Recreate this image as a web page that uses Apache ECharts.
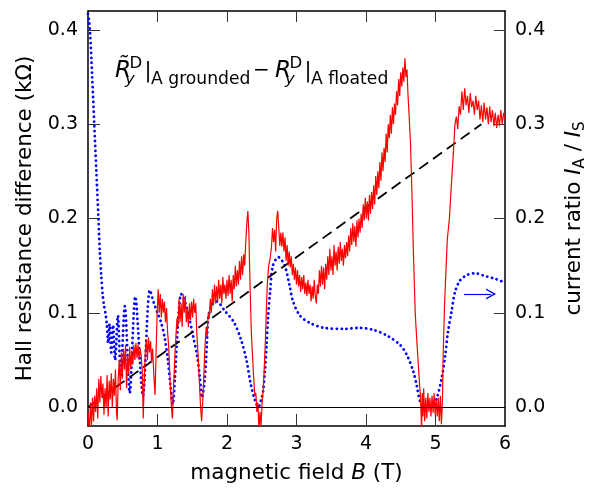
<!DOCTYPE html>
<html>
<head>
<meta charset="utf-8">
<script src="https://cdn.jsdelivr.net/npm/echarts@6/dist/echarts.min.js"></script>
<style>
  html, body { margin: 0; padding: 0; background: #fff; }
  #chart { width: 596px; height: 489px; }
</style>
</head>
<body>
<div id="chart"></div>
<script>
const FONT = 'DejaVu Sans';

// Tick positions
const xTicks = [0, 1, 2, 3, 4, 5, 6];
const yTicks = [0, 0.1, 0.2, 0.3, 0.4];

// Hall resistance difference (kOhm) vs magnetic field B (T)
const hallDiff = [
  [0.00, -0.005], [0.02, -0.025], [0.035, 0.005], [0.05, -0.02], [0.065, 0.01], [0.08, -0.015],
  [0.095, 0.012], [0.11, -0.005], [0.125, 0.02], [0.14, -0.012], [0.155, 0.03], [0.17, 0.005],
  [0.185, 0.033], [0.20, 0.01], [0.215, 0.025], [0.23, -0.008], [0.245, 0.02], [0.26, 0.0],
  [0.275, 0.034], [0.29, -0.01], [0.305, 0.028], [0.32, 0.008], [0.335, 0.036], [0.35, 0.0],
  [0.365, 0.03], [0.38, 0.012], [0.395, 0.04], [0.41, -0.005], [0.42, -0.014], [0.435, 0.03],
  [0.45, 0.05], [0.465, 0.018], [0.48, 0.058], [0.495, 0.03], [0.51, 0.062], [0.525, 0.04],
  [0.54, 0.066], [0.555, 0.02], [0.57, 0.055], [0.585, 0.035], [0.60, 0.064], [0.615, 0.04],
  [0.63, 0.06], [0.645, 0.045], [0.66, 0.066], [0.675, 0.05], [0.69, 0.068], [0.705, 0.052],
  [0.72, 0.066], [0.735, 0.05], [0.75, 0.062], [0.765, 0.055], [0.78, 0.04], [0.795, -0.012],
  [0.81, 0.03], [0.825, 0.06], [0.84, 0.072], [0.855, 0.05], [0.87, 0.074], [0.885, 0.058],
  [0.90, 0.07], [0.915, 0.048], [0.93, 0.062], [0.95, 0.03], [0.965, 0.013], [0.98, 0.06],
  [0.995, 0.1], [1.01, 0.125], [1.025, 0.1], [1.04, 0.12], [1.055, 0.095], [1.07, 0.115],
  [1.085, 0.1], [1.10, 0.112], [1.115, 0.09], [1.13, 0.105], [1.145, 0.08], [1.16, 0.065],
  [1.18, 0.03], [1.20, 0.0], [1.215, -0.012], [1.23, 0.02], [1.25, 0.055], [1.265, 0.075],
  [1.28, 0.094], [1.295, 0.085], [1.31, 0.115], [1.325, 0.09], [1.34, 0.11], [1.355, 0.085],
  [1.37, 0.12], [1.385, 0.1], [1.40, 0.118], [1.415, 0.09], [1.43, 0.105], [1.445, 0.085],
  [1.46, 0.11], [1.475, 0.092], [1.49, 0.112], [1.505, 0.095], [1.52, 0.115], [1.535, 0.1],
  [1.55, 0.11], [1.565, 0.08], [1.58, 0.06], [1.60, 0.03], [1.62, 0.0], [1.635, -0.015],
  [1.65, 0.005], [1.665, 0.03], [1.68, 0.06], [1.70, 0.085], [1.715, 0.075], [1.73, 0.1],
  [1.745, 0.094], [1.76, 0.115], [1.775, 0.1], [1.79, 0.125], [1.805, 0.108], [1.82, 0.13],
  [1.835, 0.11], [1.85, 0.128], [1.865, 0.112], [1.88, 0.135], [1.895, 0.115], [1.91, 0.13],
  [1.925, 0.11], [1.94, 0.138], [1.955, 0.12], [1.97, 0.13], [1.985, 0.115], [2.00, 0.135],
  [2.015, 0.118], [2.03, 0.14], [2.045, 0.12], [2.06, 0.135], [2.075, 0.112], [2.09, 0.14],
  [2.105, 0.125], [2.12, 0.15], [2.135, 0.128], [2.15, 0.145], [2.165, 0.13], [2.18, 0.155],
  [2.195, 0.135], [2.21, 0.16], [2.225, 0.14], [2.24, 0.162], [2.255, 0.15], [2.27, 0.175],
  [2.285, 0.195], [2.30, 0.208], [2.315, 0.185], [2.325, 0.15], [2.335, 0.12], [2.35, 0.08],
  [2.37, 0.05], [2.385, 0.03], [2.40, 0.012], [2.415, 0.015], [2.43, -0.005], [2.445, 0.005],
  [2.46, -0.025], [2.475, -0.005], [2.49, -0.02], [2.505, 0.005], [2.52, 0.017], [2.535, 0.04],
  [2.55, 0.066], [2.565, 0.1], [2.58, 0.13], [2.60, 0.15], [2.62, 0.157], [2.64, 0.17],
  [2.655, 0.19], [2.67, 0.175], [2.685, 0.188], [2.70, 0.165], [2.715, 0.2], [2.73, 0.208],
  [2.745, 0.19], [2.76, 0.171], [2.775, 0.185], [2.79, 0.17], [2.805, 0.185], [2.82, 0.165],
  [2.835, 0.18], [2.85, 0.155], [2.865, 0.172], [2.88, 0.15], [2.895, 0.165], [2.91, 0.148],
  [2.925, 0.16], [2.94, 0.14], [2.955, 0.152], [2.97, 0.135], [2.985, 0.148], [3.00, 0.13],
  [3.015, 0.145], [3.03, 0.128], [3.045, 0.14], [3.06, 0.122], [3.075, 0.138], [3.09, 0.125],
  [3.105, 0.14], [3.12, 0.12], [3.135, 0.132], [3.15, 0.118], [3.165, 0.135], [3.18, 0.12],
  [3.195, 0.13], [3.21, 0.112], [3.225, 0.128], [3.24, 0.115], [3.255, 0.135], [3.27, 0.118],
  [3.285, 0.11], [3.30, 0.13], [3.315, 0.12], [3.33, 0.145], [3.345, 0.128], [3.36, 0.15],
  [3.375, 0.13], [3.39, 0.148], [3.405, 0.125], [3.42, 0.152], [3.435, 0.135], [3.45, 0.16],
  [3.465, 0.14], [3.48, 0.168], [3.495, 0.145], [3.51, 0.16], [3.525, 0.14], [3.54, 0.172],
  [3.555, 0.15], [3.57, 0.165], [3.585, 0.145], [3.60, 0.17], [3.615, 0.152], [3.63, 0.175],
  [3.645, 0.155], [3.66, 0.168], [3.675, 0.15], [3.69, 0.172], [3.705, 0.158], [3.72, 0.175],
  [3.735, 0.16], [3.75, 0.182], [3.765, 0.165], [3.78, 0.19], [3.795, 0.172], [3.81, 0.195],
  [3.825, 0.175], [3.84, 0.192], [3.855, 0.17], [3.87, 0.198], [3.885, 0.18], [3.90, 0.2],
  [3.915, 0.185], [3.93, 0.205], [3.945, 0.19], [3.96, 0.215], [3.975, 0.198], [3.99, 0.222],
  [4.005, 0.2], [4.02, 0.218], [4.035, 0.198], [4.05, 0.225], [4.065, 0.205], [4.08, 0.228],
  [4.095, 0.21], [4.11, 0.235], [4.125, 0.215], [4.14, 0.245], [4.155, 0.225], [4.17, 0.25],
  [4.185, 0.232], [4.20, 0.26], [4.215, 0.24], [4.23, 0.27], [4.245, 0.25], [4.26, 0.275],
  [4.275, 0.26], [4.29, 0.29], [4.305, 0.27], [4.32, 0.3], [4.335, 0.285], [4.35, 0.31],
  [4.365, 0.29], [4.38, 0.318], [4.395, 0.3], [4.41, 0.322], [4.425, 0.31], [4.44, 0.335],
  [4.455, 0.32], [4.47, 0.348], [4.485, 0.33], [4.50, 0.355], [4.515, 0.34], [4.53, 0.36],
  [4.545, 0.345], [4.56, 0.37], [4.575, 0.35], [4.59, 0.358], [4.605, 0.33], [4.62, 0.31],
  [4.64, 0.28], [4.66, 0.23], [4.68, 0.17], [4.70, 0.12], [4.71, 0.097], [4.74, 0.06],
  [4.77, 0.025], [4.785, 0.01], [4.80, -0.025], [4.81, 0.015], [4.82, -0.01], [4.83, 0.02],
  [4.845, -0.015], [4.86, 0.01], [4.875, -0.012], [4.89, 0.015], [4.905, -0.005], [4.92, 0.01],
  [4.935, -0.01], [4.95, 0.012], [4.965, -0.006], [4.98, 0.015], [4.995, -0.008], [5.01, 0.008],
  [5.025, -0.01], [5.04, 0.01], [5.055, -0.015], [5.07, 0.012], [5.085, -0.018], [5.10, 0.006],
  [5.11, 0.055], [5.13, 0.108], [5.15, 0.144], [5.17, 0.178], [5.20, 0.2], [5.23, 0.238],
  [5.26, 0.273], [5.28, 0.3], [5.30, 0.308], [5.32, 0.295], [5.34, 0.319], [5.36, 0.31],
  [5.38, 0.335], [5.40, 0.315], [5.42, 0.338], [5.44, 0.32], [5.46, 0.33], [5.48, 0.312],
  [5.50, 0.333], [5.52, 0.318], [5.54, 0.325], [5.56, 0.31], [5.58, 0.33], [5.60, 0.315],
  [5.62, 0.325], [5.64, 0.305], [5.66, 0.32], [5.68, 0.302], [5.70, 0.323], [5.72, 0.305],
  [5.74, 0.318], [5.76, 0.3], [5.78, 0.319], [5.80, 0.302], [5.82, 0.315], [5.84, 0.298],
  [5.86, 0.312], [5.88, 0.296], [5.90, 0.31], [5.92, 0.298], [5.94, 0.315], [5.96, 0.3],
  [5.98, 0.312], [6.00, 0.305]
];

// Current ratio I_A / I_S vs magnetic field B (T)
const currentRatio = [
  [0.00, 0.417], [0.015, 0.41], [0.03, 0.398], [0.06, 0.35], [0.09, 0.30], [0.12, 0.25],
  [0.15, 0.20], [0.17, 0.165], [0.19, 0.14], [0.21, 0.12], [0.23, 0.108], [0.25, 0.1],
  [0.27, 0.089], [0.29, 0.068], [0.31, 0.088], [0.335, 0.058], [0.36, 0.087], [0.39, 0.05],
  [0.43, 0.097], [0.47, 0.034], [0.53, 0.107], [0.60, 0.015], [0.68, 0.117], [0.79, 0.012],
  [0.89, 0.124], [0.95, 0.11], [1.0, 0.1], [1.05, 0.09], [1.1, 0.075], [1.15, 0.05],
  [1.19, 0.02], [1.22, 0.003], [1.25, 0.03], [1.28, 0.07], [1.31, 0.105], [1.34, 0.12],
  [1.38, 0.115], [1.44, 0.10], [1.51, 0.076], [1.57, 0.055], [1.61, 0.031], [1.64, 0.01],
  [1.68, 0.03], [1.71, 0.066], [1.73, 0.094], [1.78, 0.108], [1.85, 0.112], [1.97, 0.102],
  [2.1, 0.09], [2.2, 0.072], [2.28, 0.05], [2.34, 0.025], [2.4, 0.008], [2.45, 0.0],
  [2.5, 0.01], [2.52, 0.017], [2.545, 0.038], [2.57, 0.066], [2.59, 0.094], [2.62, 0.122],
  [2.66, 0.15], [2.74, 0.159], [2.83, 0.15], [2.9, 0.129], [2.95, 0.112], [3.05, 0.097],
  [3.2, 0.089], [3.4, 0.084], [3.7, 0.083], [3.9, 0.084], [4.1, 0.082], [4.3, 0.076],
  [4.49, 0.066], [4.59, 0.055], [4.68, 0.038], [4.73, 0.023], [4.78, 0.006], [4.85, 0.0],
  [4.95, 0.0], [5.02, 0.01], [5.09, 0.031], [5.14, 0.055], [5.18, 0.08], [5.23, 0.101],
  [5.28, 0.122], [5.35, 0.134], [5.45, 0.14], [5.57, 0.142], [5.71, 0.139], [5.86, 0.136],
  [6.0, 0.132]
];

// Straight guide line (kOhm vs T)
const guideLine = [[0, 0], [5.66, 0.30]];

// Arrow pointing to the right-hand axis
const arrowStart = [5.41, 0.12];
const arrowEnd = [5.80, 0.12];

const chart = echarts.init(document.getElementById('chart'), null, { renderer: 'canvas' });

// One text piece placed by its baseline
function txt(str, x, baseline, size, italic) {
  return {
    type: 'text',
    x: x,
    y: baseline - 0.32 * size,
    silent: true,
    style: {
      text: str,
      font: (italic ? 'italic ' : '') + size + 'px "' + FONT + '"',
      fill: '#000',
      align: 'left', verticalAlign: 'middle',
      textAlign: 'left', textVerticalAlign: 'middle'
    }
  };
}
// One term of the formula: R_y^D |_sub
function term(x0, tilde, sub) {
  const B = 78;
  return [
    txt(tilde ? 'R\u0303' : 'R', x0, B, 23, true),
    txt('D', x0 + 14.5, B - 9, 16.5, false),
    txt('y', x0 + 10, B + 7, 16.5, true),
    txt('|', x0 + 29.5, B, 21, false),
    txt(sub, x0 + 36, B + 7, 17.2, false)
  ];
}
const formula = [].concat(
  term(115, true, 'A grounded'),
  [txt('\u2212', 253, 77, 20, false)],
  term(275, false, 'A floated')
);

const axisLineStyle = { color: '#000', width: 1.5 };
const tickStyle = { color: '#333', width: 1 };
const labelStyle = { fontFamily: FONT, fontSize: 19, color: '#000' };
const nameStyle = { fontFamily: FONT, fontSize: 21.5, color: '#000' };

chart.setOption({
  animation: false,
  backgroundColor: '#fff',
  grid: { left: 88, right: 91, top: 11, bottom: 61, containLabel: false },
  xAxis: [
    {
      type: 'value', position: 'bottom', min: 0, max: 6, interval: 1,
      axisLine: { show: true, onZero: false, lineStyle: axisLineStyle },
      axisTick: { show: true, inside: true, length: 12, lineStyle: tickStyle, customValues: xTicks.slice(1, -1) },
      axisLabel: Object.assign({ margin: 9, customValues: xTicks }, labelStyle),
      splitLine: { show: false },
      name: '{t|magnetic field }{i|B}{t| (T)}',
      nameLocation: 'middle', nameGap: 36,
      nameTextStyle: Object.assign({
        rich: {
          t: { fontFamily: FONT, fontSize: 21.5, color: '#000' },
          i: { fontFamily: FONT, fontSize: 21.5, fontStyle: 'italic', color: '#000' }
        }
      }, nameStyle)
    },
    {
      type: 'value', position: 'top', min: 0, max: 6, interval: 1,
      axisLine: { show: true, onZero: false, lineStyle: axisLineStyle },
      axisTick: { show: true, inside: true, length: 11, lineStyle: tickStyle, customValues: xTicks.slice(1, -1) },
      axisLabel: { show: false },
      splitLine: { show: false }
    }
  ],
  yAxis: [
    {
      type: 'value', position: 'left', min: -0.02, max: 0.42,
      axisLine: { show: true, onZero: false, lineStyle: axisLineStyle },
      axisTick: { show: true, inside: true, length: 12, lineStyle: tickStyle, customValues: yTicks.slice(1) },
      axisLabel: Object.assign({ margin: 10, customValues: yTicks, formatter: v => v.toFixed(1) }, labelStyle),
      splitLine: { show: false },
      name: 'Hall resistance difference (kΩ)',
      nameLocation: 'middle', nameGap: 51,
      nameTextStyle: nameStyle
    },
    {
      type: 'value', position: 'right', min: -0.02, max: 0.42,
      axisLine: { show: true, onZero: false, lineStyle: axisLineStyle },
      axisTick: { show: true, inside: true, length: 11, lineStyle: tickStyle, customValues: yTicks.slice(1) },
      axisLabel: Object.assign({ margin: 10, customValues: yTicks, formatter: v => v.toFixed(1) }, labelStyle),
      splitLine: { show: false },
      name: '{t|current ratio }{i|I}{s|A}{t| / }{i|I}{s|S}',
      nameLocation: 'middle', nameGap: 55,
      nameTextStyle: Object.assign({
        rich: {
          t: { fontFamily: FONT, fontSize: 21.5, lineHeight: 28, color: '#000' },
          i: { fontFamily: FONT, fontSize: 21.5, lineHeight: 28, fontStyle: 'italic', color: '#000' },
          s: { fontFamily: FONT, fontSize: 15, lineHeight: 15, verticalAlign: 'bottom', color: '#000' }
        }
      }, nameStyle)
    }
  ],
  graphic: formula,
  series: [
    {
      name: 'current ratio', type: 'line', xAxisIndex: 0, yAxisIndex: 1,
      data: currentRatio, showSymbol: false, smooth: 0.3, z: 1,
      lineStyle: { color: '#0000ff', width: 2.8, type: [0.1, 4.8], cap: 'round' },
      emphasis: { disabled: true },
      markLine: {
        silent: true, animation: false,
        symbol: ['none', 'path://M0,10 L5,0 L10,10 L8.6,10 L5,2.8 L1.4,10 Z'],
        symbolSize: [11, 10],
        label: { show: false },
        emphasis: { disabled: true },
        lineStyle: { color: '#0000ff', width: 1.2, type: 'solid' },
        data: [[{ coord: arrowStart }, { coord: arrowEnd }]]
      }
    },
    {
      name: 'guide', type: 'line', xAxisIndex: 0, yAxisIndex: 0,
      data: guideLine, showSymbol: false, z: 2,
      lineStyle: { color: '#000', width: 1.8, type: [11, 6] },
      emphasis: { disabled: true },
      markLine: {
        silent: true, animation: false, symbol: ['none', 'none'],
        label: { show: false },
        emphasis: { disabled: true },
        lineStyle: { color: '#000', width: 1, type: 'solid' },
        data: [{ yAxis: 0 }]
      }
    },
    {
      name: 'Hall difference', type: 'line', xAxisIndex: 0, yAxisIndex: 0,
      data: hallDiff, showSymbol: false, z: 3,
      lineStyle: { color: '#ff0000', width: 1.2 },
      emphasis: { disabled: true }
    }
  ]
});
</script>
</body>
</html>
